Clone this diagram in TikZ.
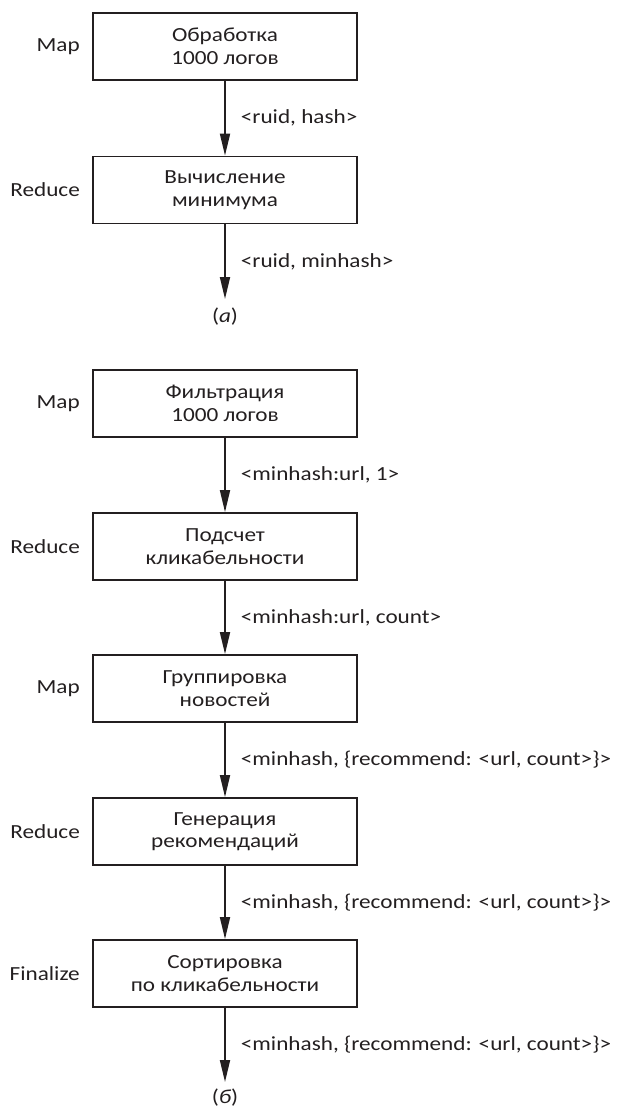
\documentclass[tikz,border=0pt]{standalone}
\usepackage{fontspec}
\setmainfont{Carlito}[FakeStretch=1.16]
\usetikzlibrary{arrows.meta}
\definecolor{ink}{HTML}{231F20}
\begin{document}
\begin{tikzpicture}[x=1pt,y=-1pt,
  font=\fontsize{20}{22.5}\selectfont,
  stage/.style={draw=ink, line width=1.8pt, minimum width=264pt, minimum height=67pt,
    inner sep=0pt, align=center, text=ink},
  phase/.style={anchor=east, text=ink, inner sep=0pt},
  flow/.style={draw=ink, line width=1.8pt, -{Triangle[length=22pt,width=10pt]}},
  kv/.style={anchor=west, text=ink, inner sep=0pt},
  tag/.style={text=ink, inner sep=0pt}]
\useasboundingbox (0,0) rectangle (616,1111);

% (a)
\node[stage] (a1) at (225,46.5) {Обработка\\1000 логов};
\node[stage] (a2) at (225,190) {Вычисление\\минимума};
\coordinate (aend) at (225,299);
\node[tag] (acap) at (225,317) {(\textit{а})};
\node[phase] (la1) at (80,46.5) {Map};
\node[phase] (la2) at (80,190) {Reduce};
\draw[flow] (a1) -- (a2) node[kv, midway, xshift=15pt] (ka1) {<ruid, hash>};
\draw[flow] (a2) -- (aend) node[kv, midway, xshift=15pt] (ka2) {<ruid, minhash>};

% (b)
\node[stage] (b1) at (225,403.5) {Фильтрация\\1000 логов};
\node[stage] (b2) at (225,546.5) {Подсчет\\кликабельности};
\node[stage] (b3) at (225,688.5) {Группировка\\новостей};
\node[stage] (b4) at (225,831.5) {Генерация\\рекомендаций};
\node[stage] (b5) at (225,973.5) {Сортировка\\по кликабельности};
\coordinate (bend) at (225,1082);
\node[tag] (bcap) at (225,1098) {(\textit{б})};
\node[phase] (lb1) at (80,403.5) {Map};
\node[phase] (lb2) at (80,546.5) {Reduce};
\node[phase] (lb3) at (80,688.5) {Map};
\node[phase] (lb4) at (80,831.5) {Reduce};
\node[phase] (lb5) at (80,973.5) {Finalize};
\draw[flow] (b1) -- (b2) node[kv, midway, xshift=15pt] (kb1) {<minhash:url, 1>};
\draw[flow] (b2) -- (b3) node[kv, midway, xshift=15pt] (kb2) {<minhash:url, count>};
\draw[flow] (b3) -- (b4) node[kv, midway, xshift=15pt] (kb3) {<minhash, \{recommend: <url, count>\}>};
\draw[flow] (b4) -- (b5) node[kv, midway, xshift=15pt] (kb4) {<minhash, \{recommend: <url, count>\}>};
\draw[flow] (b5) -- (bend) node[kv, midway, xshift=15pt] (kb5) {<minhash, \{recommend: <url, count>\}>};
\end{tikzpicture}
\end{document}
